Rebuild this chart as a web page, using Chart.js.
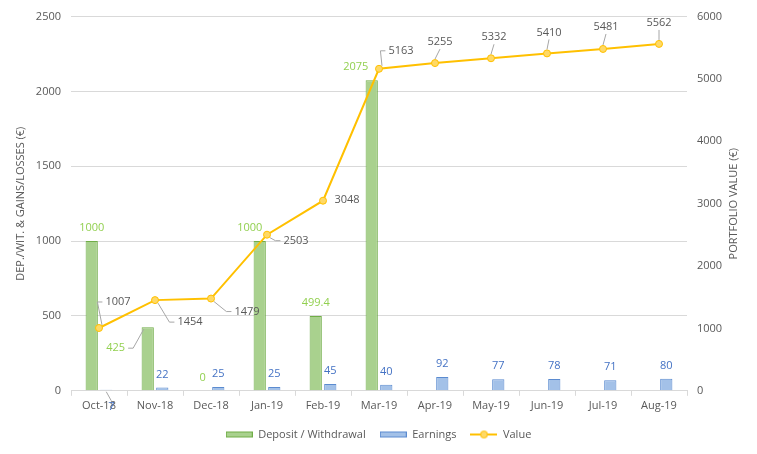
<!DOCTYPE html>
<html>
<head>
<meta charset="utf-8">
<script src="https://cdn.jsdelivr.net/npm/chart.js@4"></script>
<style>
  html, body { margin: 0; padding: 0; background: #fff; }
  #wrap { width: 757px; height: 454px; }
</style>
</head>
<body>
<div id="wrap"><canvas id="grafico"></canvas></div>
<script>
/* Dados */

const months = ["Oct-18", "Nov-18", "Dec-18", "Jan-19", "Feb-19", "Mar-19", "Apr-19", "May-19", "Jun-19", "Jul-19", "Aug-19"];
const deposits = [1000, 425, 0, 1000, 499.4, 2075, null, null, null, null, null];
const earnings = [7, 22, 25, 25, 45, 40, 92, 77, 78, 71, 80];
const portfolio = [1007, 1454, 1479, 2503, 3048, 5163, 5255, 5332, 5410, 5481, 5562];

const leftTicks = [0, 500, 1000, 1500, 2000, 2500];
const rightTicks = [0, 1000, 2000, 3000, 4000, 5000, 6000];

/* posição dos rótulos: [dx, dy, linha guia] */
const depositLabelPos = [[0, -13], [-32, 21, true], [-1, -13], [-10, -13], [0, -13], [-16, -13]];
const earningsLabelPos = [[5, 17, true]];
const valueLabelPos = [[19, -26, true], [35, 22, true], [36, 13, true], [29, 6, true], [24, -1], [22, -18, true],
  [5, -21, true], [3, -21, true], [2, -21, true], [3, -22, true], [0, -21, true]];

const fonte = '"Open Sans", sans-serif';
const cinza = "#595959";

/* ícones da legenda */
function icone(desenha) {
  const c = document.createElement("canvas");
  c.width = 27;
  c.height = 10;
  desenha(c.getContext("2d"));
  return c;
}
const iconeVerde = icone(function (g) {
  g.fillStyle = "#a9d18e";
  g.strokeStyle = "#70ad47";
  g.fillRect(0.5, 2.5, 26, 5);
  g.strokeRect(0.5, 2.5, 26, 5);
});
const iconeAzul = icone(function (g) {
  g.fillStyle = "#a3c1e8";
  g.strokeStyle = "#5b8bd0";
  g.fillRect(0.5, 2.5, 26, 5);
  g.strokeRect(0.5, 2.5, 26, 5);
});
const iconeLinha = icone(function (g) {
  g.strokeStyle = "#ffc000";
  g.lineWidth = 2;
  g.beginPath();
  g.moveTo(0, 5);
  g.lineTo(27, 5);
  g.stroke();
  g.fillStyle = "#ffd966";
  g.lineWidth = 1;
  g.beginPath();
  g.arc(13.5, 5, 3.5, 0, Math.PI * 2);
  g.fill();
  g.stroke();
});
const icones = [iconeVerde, iconeAzul, iconeLinha];

/* rótulos de dados */
const rotulos = {
  id: "rotulos",
  afterDatasetsDraw(chart) {
    const ctx = chart.ctx;
    ctx.save();
    ctx.font = "11px " + fonte;
    ctx.textAlign = "center";
    ctx.textBaseline = "middle";
    chart.data.datasets.forEach(function (ds, i) {
      const meta = chart.getDatasetMeta(i);
      meta.data.forEach(function (el, j) {
        const v = ds.data[j];
        if (v === null || v === undefined) return;
        const pos = (ds.posRotulos && ds.posRotulos[j]) || [0, -13];
        const x0 = el.x, y0 = el.y;
        const lx = x0 + pos[0], ly = y0 + pos[1];
        const txt = String(v);
        const w = ctx.measureText(txt).width;
        if (pos[2]) {
          ctx.strokeStyle = "#a6a6a6";
          ctx.lineWidth = 1;
          ctx.beginPath();
          if (pos[0] > 12) {
            ctx.moveTo(x0 + 3, y0 + (pos[1] > 0 ? 3 : -3));
            ctx.lineTo(lx - w / 2 - 8, ly);
            ctx.lineTo(lx - w / 2 - 3, ly);
          } else if (pos[0] < -12) {
            ctx.moveTo(x0 - 4, y0 + 2);
            ctx.lineTo(lx + w / 2 + 8, ly);
            ctx.lineTo(lx + w / 2 + 3, ly);
          } else if (pos[1] < 0) {
            ctx.moveTo(x0, y0 - 4);
            ctx.lineTo(lx, ly + 7);
          } else {
            ctx.moveTo(x0, y0 + 2);
            ctx.lineTo(lx, ly - 6);
          }
          ctx.stroke();
        }
        ctx.fillStyle = ds.corRotulo;
        ctx.fillText(txt, lx, ly);
      });
    });
    ctx.restore();
  }
};

/* título do eixo direito (lido de baixo para cima) */
const tituloDireito = {
  id: "tituloDireito",
  afterDraw(chart) {
    const ctx = chart.ctx;
    const a = chart.chartArea;
    ctx.save();
    ctx.translate(734, (a.top + a.bottom) / 2);
    ctx.rotate(-Math.PI / 2);
    ctx.font = "11px " + fonte;
    ctx.fillStyle = cinza;
    ctx.textAlign = "center";
    ctx.textBaseline = "middle";
    ctx.fillText("PORTFOLIO VALUE (€)", 0, 0);
    ctx.restore();
  }
};

/* Gráfico */

const data = {
  labels: months,
  datasets: [
    {
      type: "bar",
      label: "Deposit / Withdrawal",
      data: deposits,
      yAxisID: "y",
      backgroundColor: "#a9d18e",
      borderColor: "#70ad47",
      borderWidth: 1,
      categoryPercentage: 0.52,
      barPercentage: 0.84,
      order: 2,
      corRotulo: "#92d050",
      posRotulos: depositLabelPos,
    },
    {
      type: "bar",
      label: "Earnings",
      data: earnings,
      yAxisID: "y",
      backgroundColor: "#a3c1e8",
      borderColor: "#5b8bd0",
      borderWidth: 1,
      categoryPercentage: 0.52,
      barPercentage: 0.84,
      order: 2,
      corRotulo: "#4472c4",
      posRotulos: earningsLabelPos,
    },
    {
      type: "line",
      label: "Value",
      data: portfolio,
      yAxisID: "y1",
      borderColor: "#ffc000",
      borderWidth: 2,
      backgroundColor: "#ffd966",
      pointBackgroundColor: "#ffd966",
      pointBorderColor: "#ffc000",
      pointBorderWidth: 1,
      pointRadius: 3.5,
      tension: 0,
      order: 1,
      corRotulo: cinza,
      posRotulos: valueLabelPos,
    },
  ],
};

const config = {
  data: data,
  options: {
    responsive: true,
    maintainAspectRatio: false,
    animation: false,
    layout: { padding: { top: 6, left: 0, right: 0, bottom: 4 } },
    plugins: {
      tooltip: { enabled: false },
      legend: {
        position: "bottom",
        labels: {
          color: cinza,
          font: { family: fonte, size: 11 },
          usePointStyle: true,
          pointStyleWidth: 27,
          boxHeight: 10,
          padding: 14,
          generateLabels: function (chart) {
            const itens = Chart.defaults.plugins.legend.labels.generateLabels(chart);
            itens.sort(function (a, b) { return a.datasetIndex - b.datasetIndex; });
            itens.forEach(function (it) { it.pointStyle = icones[it.datasetIndex]; });
            return itens;
          },
        },
      },
    },
    scales: {
      x: {
        offset: true,
        grid: { drawOnChartArea: false, offset: true, tickLength: 5, color: "#d9d9d9" },
        border: { color: "#d9d9d9" },
        ticks: { color: cinza, font: { family: fonte, size: 11 }, padding: 3, maxRotation: 0 },
      },
      y: {
        position: "left",
        min: 0,
        max: 2500,
        afterBuildTicks: function (ax) { ax.ticks = leftTicks.map(function (v) { return { value: v }; }); },
        afterFit: function (ax) { ax.width = 71; },
        grid: { color: "#d9d9d9", tickLength: 0 },
        border: { display: false },
        ticks: { color: cinza, font: { family: fonte, size: 11 }, padding: 10, callback: function (v) { return String(v); } },
        title: {
          display: true,
          text: "DEP./WIT. & GAINS/LOSSES (€)",
          color: cinza,
          font: { family: fonte, size: 11 },
          padding: { top: 14, bottom: 0 },
        },
      },
      y1: {
        position: "right",
        min: 0,
        max: 6000,
        afterBuildTicks: function (ax) { ax.ticks = rightTicks.map(function (v) { return { value: v }; }); },
        afterFit: function (ax) { ax.width = 70; },
        grid: { drawOnChartArea: false, tickLength: 0 },
        border: { display: false },
        ticks: { color: cinza, font: { family: fonte, size: 11 }, padding: 10, callback: function (v) { return String(v); } },
      },
    },
  },
  plugins: [rotulos, tituloDireito],
};
const myChart = new Chart(document.getElementById("grafico"), config);
</script>
</body>
</html>
